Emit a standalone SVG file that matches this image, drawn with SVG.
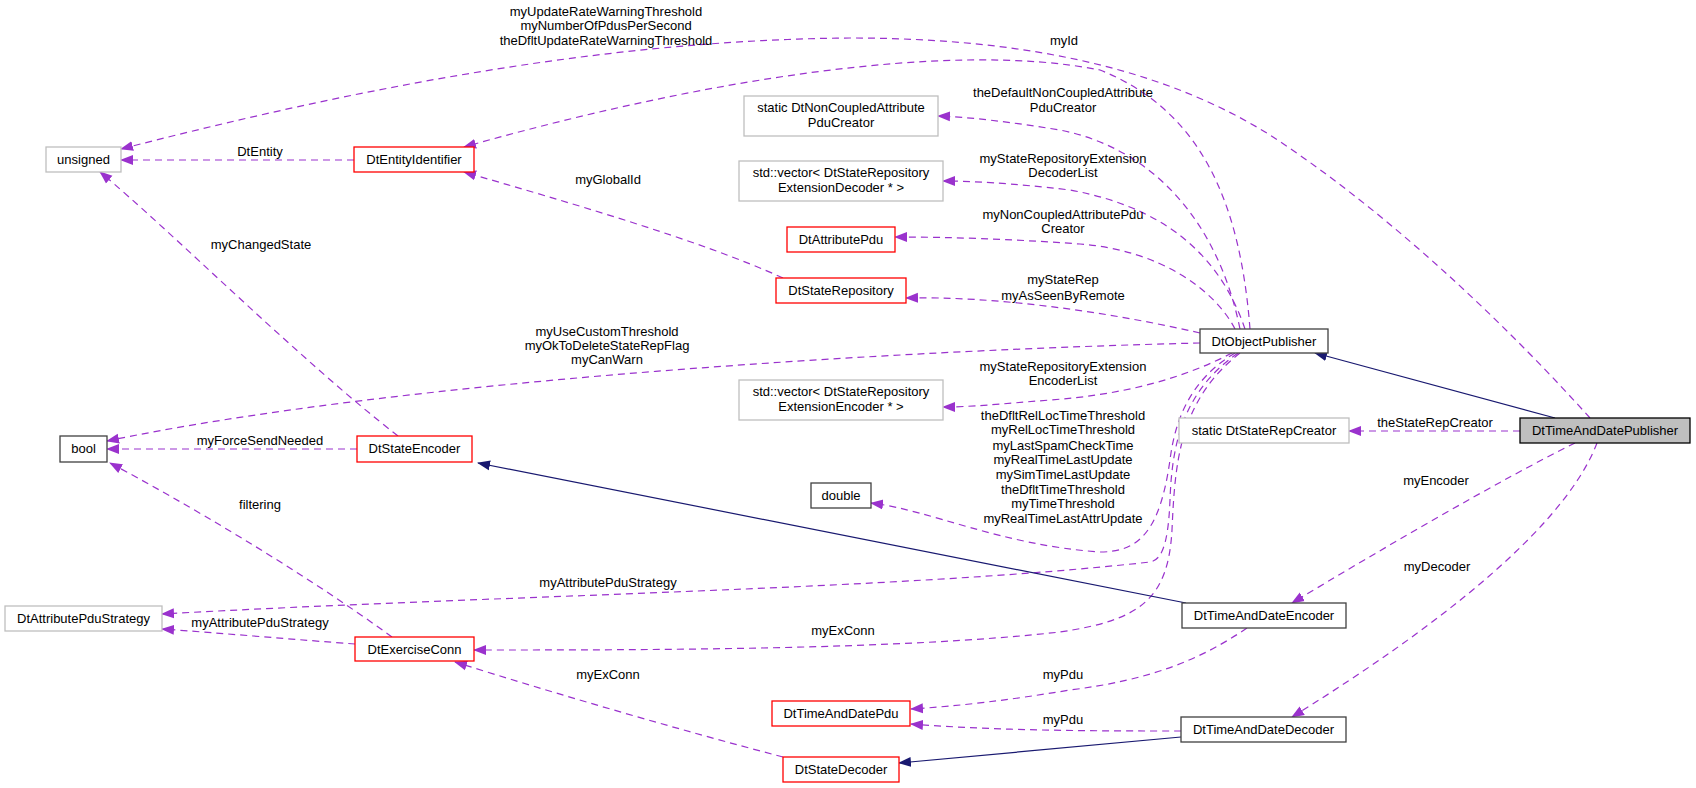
<svg xmlns="http://www.w3.org/2000/svg" width="1696" height="788" viewBox="0 0 1696 788">
<style>
text{font-family:"Liberation Sans",Arial,sans-serif;font-size:13px;fill:#000;text-anchor:middle}
.n rect{fill:#fff;stroke-width:1.3}
.blk rect{stroke:#404040}
.red rect{stroke:#ff0000}
.gry rect{stroke:#bfbfbf}
.cur rect{fill:#bfbfbf;stroke:#000}
.e{fill:none;stroke:#9a32cd;stroke-width:1.2;stroke-dasharray:7,5}
.g{fill:none;stroke:#191970;stroke-width:1.2}
</style>
<defs>
<marker id="ap" markerUnits="userSpaceOnUse" markerWidth="14" markerHeight="12" refX="12" refY="5" orient="auto" viewBox="0 0 14 10"><path d="M0,0 L13,5 L0,10 z" fill="#9a32cd"/></marker>
<marker id="ag" markerUnits="userSpaceOnUse" markerWidth="14" markerHeight="12" refX="12" refY="5" orient="auto" viewBox="0 0 14 10"><path d="M0,0 L13,5 L0,10 z" fill="#191970"/></marker>
</defs>
<rect width="1696" height="788" fill="#fff"/>
<g id="edges">
<path class="e" marker-end="url(#ap)" d="M1590,418 C1520,340 1400,220 1270,135 C1150,60 1000,38 850,38 C600,40 350,90 121,149"/>
<path class="e" marker-end="url(#ap)" d="M1250,329 C1240,200 1200,110 1100,70 C950,40 700,80 464,147"/>
<path class="e" marker-end="url(#ap)" d="M354,160 L121,160"/>
<path class="e" marker-end="url(#ap)" d="M783,278 C700,240 560,200 464,172"/>
<path class="e" marker-end="url(#ap)" d="M398,436 C300,360 170,230 100,172"/>
<path class="e" marker-end="url(#ap)" d="M1240,329 C1220,230 1160,150 1060,130 C1010,122 970,117 938,116"/>
<path class="e" marker-end="url(#ap)" d="M1245,329 C1225,270 1180,210 1070,190 C1010,183 970,181 943,181"/>
<path class="e" marker-end="url(#ap)" d="M1235,329 C1215,290 1160,250 1080,244 C1010,239 950,237 895,237"/>
<path class="e" marker-end="url(#ap)" d="M1200,333 C1100,310 990,296 906,298"/>
<path class="e" marker-end="url(#ap)" d="M1200,343 C900,350 400,380 107,441"/>
<path class="e" marker-end="url(#ap)" d="M1232,353 C1180,380 1120,395 1050,400 C1000,404 970,407 943,407"/>
<path class="e" marker-end="url(#ap)" d="M1235,353 C1190,380 1175,420 1170,460 C1160,530 1140,552 1100,552 C1000,545 930,510 871,503"/>
<path class="e" marker-end="url(#ap)" d="M1238,353 C1185,390 1172,440 1170,500 C1168,550 1160,560 1150,562 C900,590 500,595 162,614"/>
<path class="e" marker-end="url(#ap)" d="M1240,353 C1180,400 1175,460 1172,530 C1168,600 1140,620 1060,632 C900,650 650,650 474,650"/>
<path class="e" marker-end="url(#ap)" d="M357,449 L107,449"/>
<path class="e" marker-end="url(#ap)" d="M392,637 C300,570 180,500 110,463"/>
<path class="e" marker-end="url(#ap)" d="M355,644 C300,640 220,633 162,629"/>
<path class="e" marker-end="url(#ap)" d="M783,757 C680,730 560,695 455,662"/>
<path class="e" marker-end="url(#ap)" d="M1247,628 C1200,660 1150,680 1070,690 C1010,700 960,706 911,709"/>
<path class="e" marker-end="url(#ap)" d="M1181,731 C1100,731 1000,731 911,724"/>
<path class="e" marker-end="url(#ap)" d="M1520,431 L1349,431"/>
<path class="e" marker-end="url(#ap)" d="M1575,443 C1500,480 1380,550 1292,603"/>
<path class="e" marker-end="url(#ap)" d="M1597,443 C1560,540 1400,650 1292,717"/>
<path class="g" marker-end="url(#ag)" d="M1555,418 L1315,353"/>
<path class="g" marker-end="url(#ag)" d="M1186,603 L478,463"/>
<path class="g" marker-end="url(#ag)" d="M1181,737 L899,763"/>
</g>
<g id="labels">
<text x="606" y="16">myUpdateRateWarningThreshold</text>
<text x="606" y="30">myNumberOfPdusPerSecond</text>
<text x="606" y="45">theDfltUpdateRateWarningThreshold</text>
<text x="1064" y="45">myId</text>
<text x="260" y="156">DtEntity</text>
<text x="608" y="184">myGlobalId</text>
<text x="261" y="249">myChangedState</text>
<text x="1063" y="97">theDefaultNonCoupledAttribute</text>
<text x="1063" y="112">PduCreator</text>
<text x="1063" y="163">myStateRepositoryExtension</text>
<text x="1063" y="177">DecoderList</text>
<text x="1063" y="219">myNonCoupledAttributePdu</text>
<text x="1063" y="233">Creator</text>
<text x="1063" y="284">myStateRep</text>
<text x="1063" y="300">myAsSeenByRemote</text>
<text x="607" y="336">myUseCustomThreshold</text>
<text x="607" y="350">myOkToDeleteStateRepFlag</text>
<text x="607" y="364">myCanWarn</text>
<text x="1063" y="371">myStateRepositoryExtension</text>
<text x="1063" y="385">EncoderList</text>
<text x="1063" y="420">theDfltRelLocTimeThreshold</text>
<text x="1063" y="434">myRelLocTimeThreshold</text>
<text x="1063" y="450">myLastSpamCheckTime</text>
<text x="1063" y="464">myRealTimeLastUpdate</text>
<text x="1063" y="479">mySimTimeLastUpdate</text>
<text x="1063" y="494">theDfltTimeThreshold</text>
<text x="1063" y="508">myTimeThreshold</text>
<text x="1063" y="523">myRealTimeLastAttrUpdate</text>
<text x="1435" y="427">theStateRepCreator</text>
<text x="1436" y="485">myEncoder</text>
<text x="1437" y="571">myDecoder</text>
<text x="260" y="445">myForceSendNeeded</text>
<text x="260" y="509">filtering</text>
<text x="608" y="587">myAttributePduStrategy</text>
<text x="260" y="627">myAttributePduStrategy</text>
<text x="843" y="635">myExConn</text>
<text x="608" y="679">myExConn</text>
<text x="1063" y="679">myPdu</text>
<text x="1063" y="724">myPdu</text>
</g>
<g id="unsigned" class="n gry"><rect x="46" y="147" width="75" height="25"/><text x="83.5" y="164">unsigned</text></g>
<g id="DtEntityIdentifier" class="n red"><rect x="354" y="147" width="120" height="25"/><text x="414" y="164">DtEntityIdentifier</text></g>
<g id="NonCoupledCreator" class="n gry"><rect x="744" y="96" width="194" height="40"/><text x="841" y="112">static DtNonCoupledAttribute</text><text x="841" y="127">PduCreator</text></g>
<g id="DecoderList" class="n gry"><rect x="739" y="161" width="204" height="40"/><text x="841" y="177">std::vector&lt; DtStateRepository</text><text x="841" y="192">ExtensionDecoder * &gt;</text></g>
<g id="DtAttributePdu" class="n red"><rect x="787" y="227" width="108" height="25"/><text x="841" y="244">DtAttributePdu</text></g>
<g id="DtStateRepository" class="n red"><rect x="776" y="278" width="130" height="25"/><text x="841" y="295">DtStateRepository</text></g>
<g id="DtObjectPublisher" class="n blk"><rect x="1200" y="329" width="128" height="24"/><text x="1264" y="346">DtObjectPublisher</text></g>
<g id="EncoderList" class="n gry"><rect x="739" y="380" width="204" height="40"/><text x="841" y="396">std::vector&lt; DtStateRepository</text><text x="841" y="411">ExtensionEncoder * &gt;</text></g>
<g id="bool" class="n blk"><rect x="60" y="436" width="47" height="26"/><text x="83.5" y="453">bool</text></g>
<g id="DtStateEncoder" class="n red"><rect x="357" y="436" width="115" height="26"/><text x="414.5" y="453">DtStateEncoder</text></g>
<g id="DtStateRepCreator" class="n gry"><rect x="1179" y="418" width="170" height="25"/><text x="1264" y="435">static DtStateRepCreator</text></g>
<g id="DtTimeAndDatePublisher" class="n cur"><rect x="1520" y="418" width="170" height="25"/><text x="1605" y="435">DtTimeAndDatePublisher</text></g>
<g id="double" class="n blk"><rect x="811" y="483" width="60" height="25"/><text x="841" y="500">double</text></g>
<g id="DtAttributePduStrategy" class="n gry"><rect x="5" y="606" width="157" height="25"/><text x="83.5" y="623">DtAttributePduStrategy</text></g>
<g id="DtExerciseConn" class="n red"><rect x="355" y="637" width="119" height="24"/><text x="414.5" y="654">DtExerciseConn</text></g>
<g id="DtTimeAndDateEncoder" class="n blk"><rect x="1182" y="603" width="164" height="25"/><text x="1264" y="620">DtTimeAndDateEncoder</text></g>
<g id="DtTimeAndDatePdu" class="n red"><rect x="772" y="701" width="138" height="25"/><text x="841" y="718">DtTimeAndDatePdu</text></g>
<g id="DtTimeAndDateDecoder" class="n blk"><rect x="1181" y="717" width="165" height="25"/><text x="1263.5" y="734">DtTimeAndDateDecoder</text></g>
<g id="DtStateDecoder" class="n red"><rect x="783" y="757" width="116" height="25"/><text x="841" y="774">DtStateDecoder</text></g>
</svg>
